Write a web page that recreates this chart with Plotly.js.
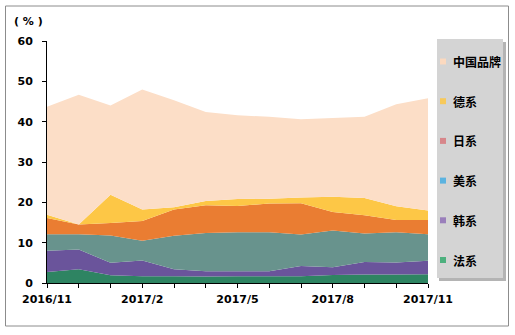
<!DOCTYPE html>
<html><head><meta charset="utf-8">
<script src="https://cdn.plot.ly/plotly-3.0.1.min.js"></script>
<style>html,body{margin:0;padding:0;background:#fff}#c{width:515px;height:335px}</style>
</head><body><div id="c"></div>
<script>
const months = ['2016/11','2016/12','2017/1','2017/2','2017/3','2017/4','2017/5','2017/6','2017/7','2017/8','2017/9','2017/10','2017/11'];
const tickLabels = ['2016/11','','','2017/2','','','2017/5','','','2017/8','','','2017/11'];
// stacked bottom -> top
const faxi   = [2.7,3.4,1.9,1.7,1.7,1.6,1.7,1.7,1.7,2.0,2.1,2.1,2.2];      // 法系
const hanxi  = [5.3,4.9,3.1,3.9,1.7,1.3,1.2,1.2,2.5,1.9,3.1,3.0,3.3];      // 韩系
const meixi  = [4.1,3.8,6.8,4.9,8.3,9.5,9.7,9.7,7.8,9.1,7.1,7.5,6.6];      // 美系
const rixi   = [4.0,2.4,3.1,4.9,6.5,6.9,6.5,7.1,7.8,4.6,4.5,3.0,3.5];      // 日系
const dexi   = [0.8,0.0,7.0,2.8,0.6,1.0,1.7,1.2,1.4,3.8,4.3,3.4,2.4];      // 德系
const zhongguo = [26.8,32.2,22.1,29.8,26.5,22.1,20.8,20.3,19.4,19.5,20.1,25.3,27.8]; // 中国品牌

const names = ['法系','韩系','美系','日系','德系','中国品牌'];
const series = [faxi, hanxi, meixi, rixi, dexi, zhongguo];
const areaColors = ['#2E8462','#6A549B','#68938D','#EA7D32','#FDC746','#FCDEC7'];
const legendColors = ['#4DB07E','#9A7FBB','#5BB3E0','#D7868A','#F7C95A','#FBD9BF'];

const idx = months.map((m,i)=>i);
const traces = series.map((s,k)=>({
  x: idx, y: s, name: names[k], type:'scatter', mode:'none',
  stackgroup:'one', fillcolor: areaColors[k], showlegend:false, hoverinfo:'skip'
}));

const L=47, R=87, T=41, B=52, W=515, H=335;
const pw=W-L-R, ph=H-T-B;
const X = px => (px-L)/pw;
const Y = py => (H-B-py)/ph;

const shapes = [
  {type:'rect', xref:'paper', yref:'paper', x0:X(5.5), x1:X(508.5), y0:Y(6), y1:Y(326), line:{color:'#8c8c8c', width:1}, fillcolor:'rgba(0,0,0,0)', layer:'below'},
  {type:'rect', xref:'paper', yref:'paper', x0:X(439), x1:X(506), y0:Y(42), y1:Y(281), line:{width:0}, fillcolor:'#b4b4b4', layer:'above'},
  {type:'rect', xref:'paper', yref:'paper', x0:X(437), x1:X(503), y0:Y(39), y1:Y(278), line:{width:0}, fillcolor:'#D4D4D4', layer:'above'}
];
const annotations = [
  {xref:'paper', yref:'paper', x:X(12), y:Y(21), xanchor:'left', yanchor:'middle', text:'( % )', showarrow:false,
   font:{family:'DejaVu Sans', size:11, color:'#000', weight:'bold'}}
];
const legOrder = [5,4,3,2,1,0];
legOrder.forEach((k,j)=>{
  const cy = 61.5 + j*39.7;
  shapes.push({type:'rect', xref:'paper', yref:'paper', x0:X(440), x1:X(446), y0:Y(cy+3), y1:Y(cy-3), line:{width:0}, fillcolor:legendColors[k], layer:'above'});
  annotations.push({xref:'paper', yref:'paper', x:X(451), y:Y(cy), xanchor:'left', yanchor:'middle', text:names[k], showarrow:false,
    font:{family:'Noto Sans CJK SC', size:12, color:'#000', weight:'bold'}});
});

const layout = {
  width:W, height:H, margin:{l:L, r:R, t:T, b:B, pad:0},
  paper_bgcolor:'#fff', plot_bgcolor:'#fff', showlegend:false, hovermode:false,
  xaxis:{range:[0,12], tickmode:'array', tickvals:idx, ticktext:tickLabels, ticks:'outside', ticklen:4, tickcolor:'#000',
         showline:true, linecolor:'#000', linewidth:1, showgrid:false, zeroline:false, fixedrange:true,
         ticklabelstandoff:2,
         tickfont:{family:'DejaVu Sans', size:11, color:'#000', weight:'bold'}},
  yaxis:{range:[0,60], dtick:10, ticks:'outside', ticklen:4, tickcolor:'#000',
         showline:true, linecolor:'#000', linewidth:1, showgrid:false, zeroline:false, fixedrange:true,
         ticklabelstandoff:7,
         tickfont:{family:'DejaVu Sans', size:11, color:'#000', weight:'bold'}},
  shapes, annotations
};
Plotly.newPlot('c', traces, layout, {displayModeBar:false, staticPlot:true});
</script></body></html>
